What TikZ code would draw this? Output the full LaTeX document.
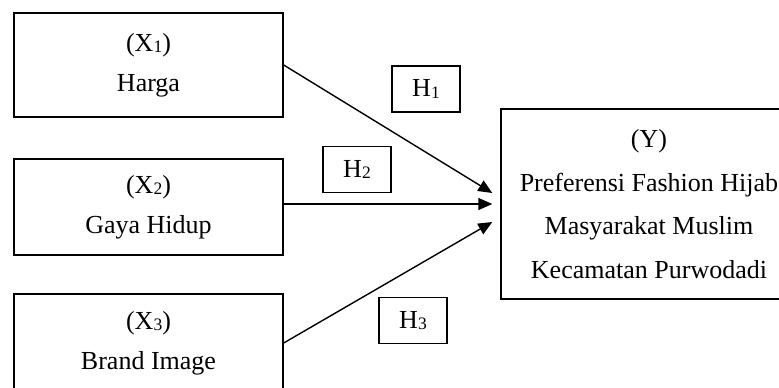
\documentclass[tikz,border=0pt]{standalone}
\usepackage{fontspec}
\setmainfont{Liberation Serif}
\usetikzlibrary{arrows.meta,calc}
\newcommand{\lowdig}[1]{\raisebox{-1.5pt}{\fontsize{17.5}{17.5}\selectfont #1}}
\begin{document}
\begin{tikzpicture}[x=1pt,y=-1pt,
  varbox/.style={draw, line width=1.4pt, rectangle, inner sep=0pt, align=center,
     font=\fontsize{26}{40}\selectfont},
  hbox/.style={draw, line width=1.4pt, rectangle, inner sep=0pt,
     minimum width=68pt, minimum height=46pt, font=\fontsize{26}{26}\selectfont},
  link/.style={line width=1.4pt, -{Triangle[length=14pt,width=12pt]}}]
\useasboundingbox (0,0) rectangle (779,388);
\clip (0,0) rectangle (779,388);
\node[varbox, minimum width=269pt, minimum height=104pt] (x1) at (148.5,65) {(X\lowdig{1})\\Harga};
\node[varbox, minimum width=269pt, minimum height=96pt] (x2) at (148.5,207) {(X\lowdig{2})\\Gaya Hidup};
\node[varbox, minimum width=269pt, minimum height=98pt] (x3) at (148.5,343) {(X\lowdig{3})\\Brand Image};
\node[varbox, minimum width=296pt, minimum height=190pt, font=\fontsize{26}{43.5}\selectfont] (y) at (649,204)
  {(Y)\\Preferensi Fashion Hijab\\Masyarakat Muslim\\Kecamatan Purwodadi};
\node[hbox] (h1) at (426,89) {H\lowdig{1}};
\node[hbox] (h2) at (357,169.5) {H\lowdig{2}};
\node[hbox] (h3) at (413,320.5) {H\lowdig{3}};
\coordinate (t1) at ($(y.west)+(-8,-11)$);
\coordinate (t2) at ($(y.west)+(-8,0)$);
\coordinate (t3) at ($(y.west)+(-8,18)$);
\coordinate (s2) at ($(x2.east)+(0,-3)$);
\draw[link] (x1.east) -- (t1);
\draw[link] (s2) -- (t2);
\draw[link] (x3.east) -- (t3);
\end{tikzpicture}
\end{document}
